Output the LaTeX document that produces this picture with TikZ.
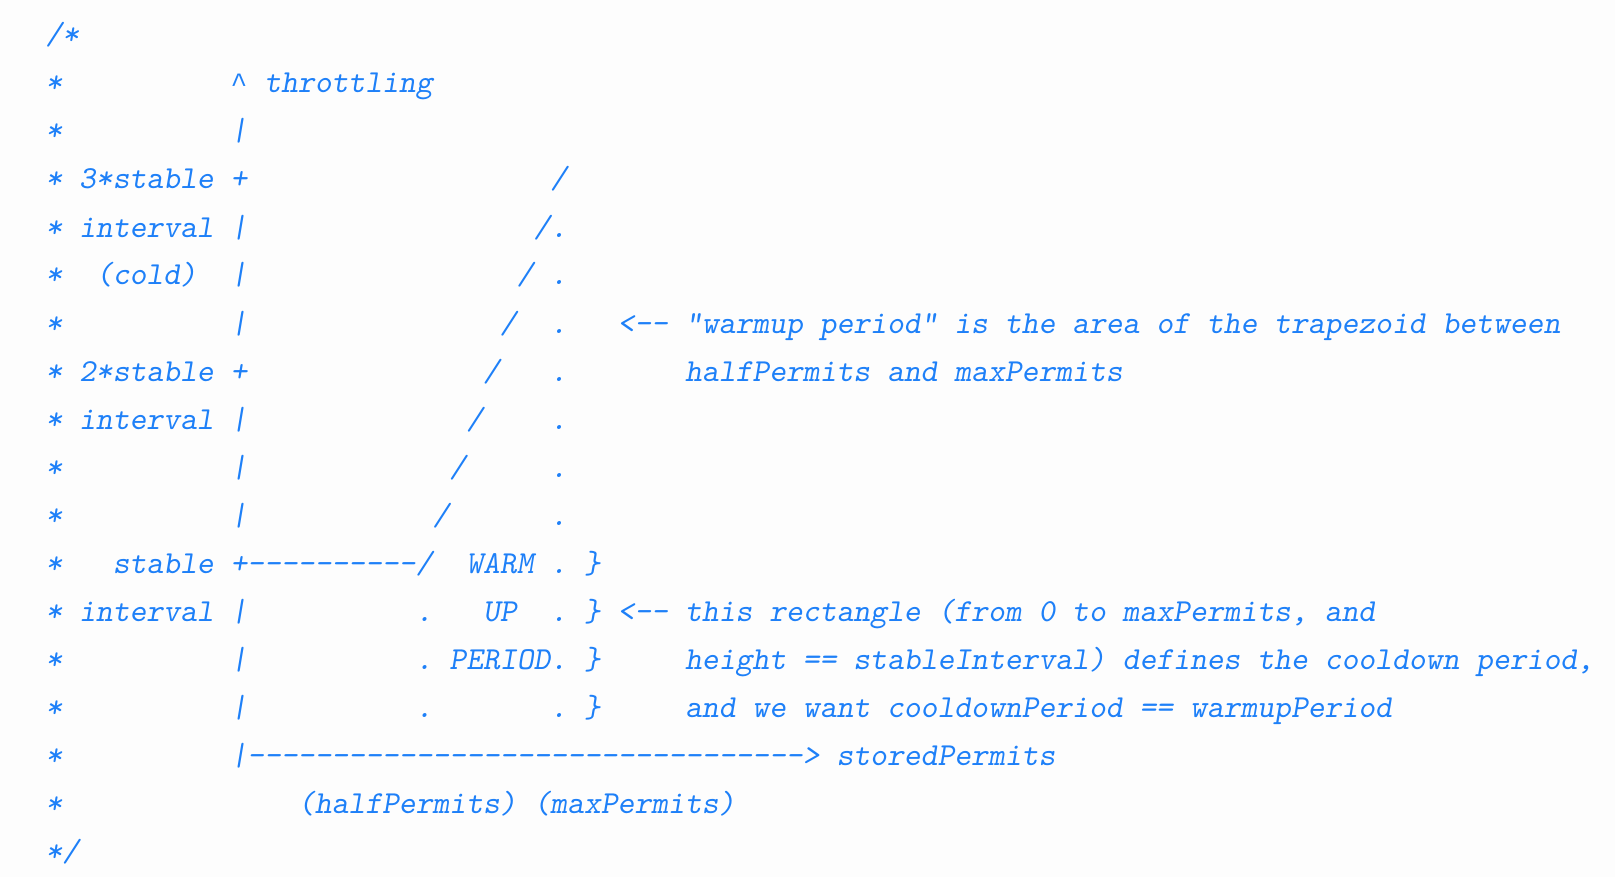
\documentclass[tikz,border=0pt]{standalone}
\usepackage{fontspec}
\usepackage{xcolor}
\usepackage{tikz}
\newfontfamily\codefont{lmmonoslant10-regular.otf}
\newfontfamily\caretfont{Liberation Mono}

\definecolor{codeblue}{RGB}{30,128,248}
\definecolor{paper}{RGB}{253,253,253}

% n blanks of the mono font
\newcommand{\gap}[1]{\hspace*{#1\fontdimen2\font}}
\newcommand{\caret}{\makebox[0.525em]{\caretfont\fontsize{14pt}{16pt}\selectfont\textasciicircum}}

\tikzset{
  codeline/.style={anchor=base west, inner sep=0pt, outer sep=0pt, text=codeblue,
    font=\fontsize{16.03pt}{18pt}\selectfont\codefont\frenchspacing}
}

\begin{document}
\begin{tikzpicture}[x=0.5pt, y=-0.5pt]

\def \left {45.5}
\def \top {45}
\def \lh {48} % line height

\fill[paper] (0,0) rectangle (1615,877);
\useasboundingbox (0,0) rectangle (1615,877);

\node[codeline] (ln1)  at (\left, \top+0*\lh)  {/*};
\node[codeline] (ln2)  at (\left, \top+1*\lh)  {*\gap{10}\caret{} throttling};
\node[codeline] (ln3)  at (\left, \top+2*\lh)  {*\gap{10}|};
\node[codeline] (ln4)  at (\left, \top+3*\lh)  {* 3*stable +\gap{18}/};
\node[codeline] (ln5)  at (\left, \top+4*\lh)  {* interval |\gap{17}/.};
\node[codeline] (ln6)  at (\left, \top+5*\lh)  {*\gap{2}(cold)\gap{2}|\gap{16}/ .};
\node[codeline] (ln7)  at (\left, \top+6*\lh)  {*\gap{10}|\gap{15}/\gap{2}.\gap{3}<-- "warmup period" is the area of the trapezoid between};
\node[codeline] (ln8)  at (\left, \top+7*\lh)  {* 2*stable +\gap{14}/\gap{3}.\gap{7}halfPermits and maxPermits};
\node[codeline] (ln9)  at (\left, \top+8*\lh)  {* interval |\gap{13}/\gap{4}.};
\node[codeline] (ln10) at (\left, \top+9*\lh)  {*\gap{10}|\gap{12}/\gap{5}.};
\node[codeline] (ln11) at (\left, \top+10*\lh) {*\gap{10}|\gap{11}/\gap{6}.};
\node[codeline] (ln12) at (\left, \top+11*\lh) {*\gap{3}stable +----------/\gap{2}WARM . \}};
\node[codeline] (ln13) at (\left, \top+12*\lh) {* interval |\gap{10}.\gap{3}UP\gap{2}. \} <-- this rectangle (from 0 to maxPermits, and};
\node[codeline] (ln14) at (\left, \top+13*\lh) {*\gap{10}|\gap{10}. PERIOD. \}\gap{5}height == stableInterval) defines the cooldown period,};
\node[codeline] (ln15) at (\left, \top+14*\lh) {*\gap{10}|\gap{10}.\gap{7}. \}\gap{5}and we want cooldownPeriod == warmupPeriod};
\node[codeline] (ln16) at (\left, \top+15*\lh) {*\gap{10}|---------------------------------> storedPermits};
\node[codeline] (ln17) at (\left, \top+16*\lh) {*\gap{14}(halfPermits) (maxPermits)};
\node[codeline] (ln18) at (\left, \top+17*\lh) {*/};

\end{tikzpicture}
\end{document}
